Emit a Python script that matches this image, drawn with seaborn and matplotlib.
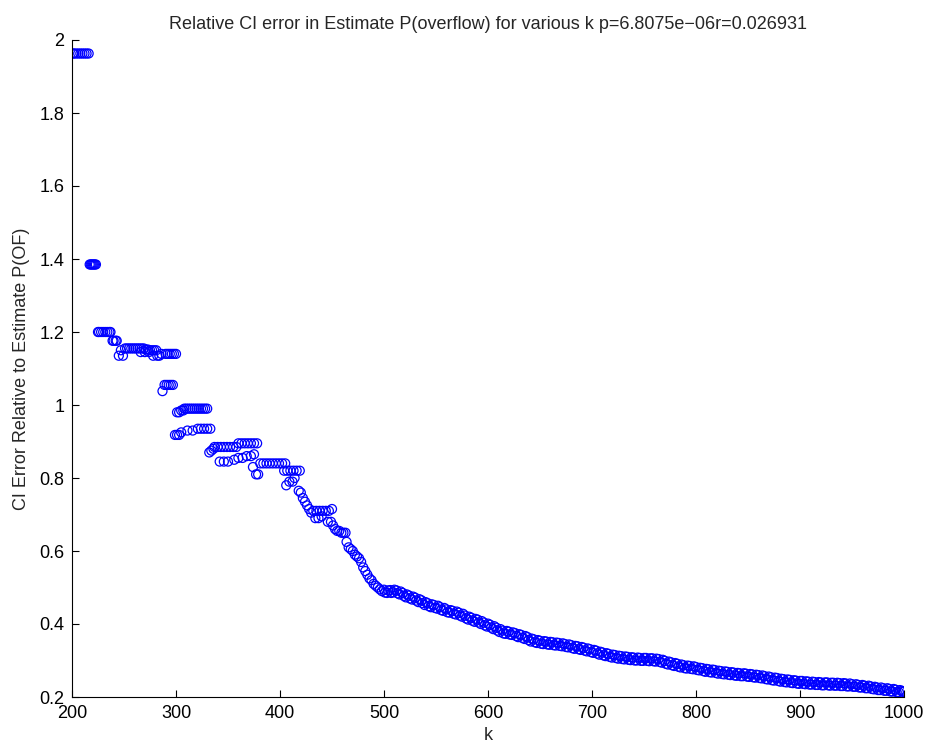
import matplotlib
matplotlib.use("Agg")
import matplotlib.pyplot as plt
import seaborn as sns
import pandas as pd

# ---- data (k, relative CI error) ----
# stepped low-k part
k_steps = [201, 202, 204, 206, 208, 210, 212, 214, 216,
           217, 218, 219, 220, 221, 222, 223,
           225, 226, 228, 230, 232, 234, 236, 237,
           239, 240, 242, 243,
           245, 247, 249,
           251, 253, 255, 257, 259, 261, 263, 265, 267, 269, 271, 273, 275, 277, 279, 281,
           266, 270, 274, 278, 282, 284, 286,
           287, 289, 291, 293, 295, 297,
           290, 292, 294, 296, 298, 300,
           299, 301, 303, 305,
           301, 303, 305, 307,
           308, 310, 312, 314, 316, 318, 320, 322, 324, 326, 328, 330,
           311, 316, 321, 324, 327, 330, 333,
           332, 334, 336,
           337, 340, 343, 346, 349, 352, 355, 358,
           360, 363, 366, 369, 372, 375, 378,
           342, 346, 350,
           356, 360, 364, 368, 372, 375,
           374, 377, 379,
           381, 384, 387, 390, 393, 396, 399, 402, 405,
           404, 407, 410, 413, 416, 419,
           406, 409, 412, 414,
           418, 420, 422, 424, 426, 428, 430,
           432, 435, 438, 441, 444, 447, 450,
           434, 437, 440,
           446, 449, 451, 453, 455, 457, 459, 461, 463,
           464, 466, 468, 470, 472, 474, 476, 478,
           480, 482, 484, 486, 488, 490, 492, 494, 496, 498]
err_steps = [1.963, 1.963, 1.963, 1.963, 1.963, 1.963, 1.963, 1.963, 1.963,
             1.385, 1.385, 1.385, 1.385, 1.385, 1.385, 1.385,
             1.200, 1.200, 1.200, 1.200, 1.200, 1.200, 1.200, 1.200,
             1.176, 1.176, 1.176, 1.176,
             1.135, 1.150, 1.135,
             1.155, 1.155, 1.155, 1.155, 1.155, 1.155, 1.155, 1.155, 1.155, 1.155, 1.152, 1.152, 1.150, 1.150, 1.150, 1.150,
             1.145, 1.145, 1.145, 1.135, 1.135, 1.135, 1.140,
             1.038, 1.055, 1.055, 1.055, 1.055, 1.055,
             1.140, 1.140, 1.140, 1.140, 1.140, 1.140,
             0.918, 0.918, 0.918, 0.925,
             0.980, 0.980, 0.985, 0.985,
             0.990, 0.990, 0.990, 0.990, 0.990, 0.990, 0.990, 0.990, 0.990, 0.990, 0.990, 0.990,
             0.930, 0.930, 0.935, 0.935, 0.935, 0.935, 0.935,
             0.870, 0.875, 0.880,
             0.885, 0.885, 0.885, 0.885, 0.885, 0.885, 0.885, 0.885,
             0.895, 0.895, 0.895, 0.895, 0.895, 0.895, 0.895,
             0.845, 0.845, 0.845,
             0.850, 0.855, 0.855, 0.860, 0.860, 0.865,
             0.830, 0.810, 0.810,
             0.840, 0.840, 0.840, 0.840, 0.840, 0.840, 0.840, 0.840, 0.840,
             0.820, 0.820, 0.820, 0.820, 0.820, 0.820,
             0.780, 0.790, 0.790, 0.800,
             0.765, 0.760, 0.745, 0.735, 0.725, 0.715, 0.705,
             0.710, 0.710, 0.710, 0.710, 0.710, 0.710, 0.715,
             0.690, 0.690, 0.695,
             0.680, 0.680, 0.670, 0.660, 0.655, 0.655, 0.650, 0.650, 0.650,
             0.625, 0.610, 0.605, 0.600, 0.590, 0.585, 0.580, 0.570,
             0.555, 0.545, 0.535, 0.525, 0.520, 0.510, 0.505, 0.500, 0.495, 0.490]

# smooth high-k band, read every 3 k (edges of the band alternating)
k_tail = [500, 503, 506, 509, 512, 515, 518, 521, 524, 527,
          530, 533, 536, 539, 542, 545, 548, 551, 554, 557,
          560, 563, 566, 569, 572, 575, 578, 581, 584, 587,
          590, 593, 596, 599, 602, 605, 608, 611, 614, 617,
          620, 623, 626, 629, 632, 635, 638, 641, 644, 647,
          650, 653, 656, 659, 662, 665, 668, 671, 674, 677,
          680, 683, 686, 689, 692, 695, 698, 701, 704, 707,
          710, 713, 716, 719, 722, 725, 728, 731, 734, 737,
          740, 743, 746, 749, 752, 755, 758, 761, 764, 767,
          770, 773, 776, 779, 782, 785, 788, 791, 794, 797,
          800, 803, 806, 809, 812, 815, 818, 821, 824, 827,
          830, 833, 836, 839, 842, 845, 848, 851, 854, 857,
          860, 863, 866, 869, 872, 875, 878, 881, 884, 887,
          890, 893, 896, 899, 902, 905, 908, 911, 914, 917,
          920, 923, 926, 929, 932, 935, 938, 941, 944, 947,
          950, 953, 956, 959, 962, 965, 968, 971, 974, 977,
          980, 983, 986, 989, 992, 995, 998, 1000]
err_tail = [0.494, 0.485, 0.493, 0.487, 0.492, 0.481, 0.485, 0.473, 0.478, 0.467,
            0.472, 0.460, 0.465, 0.452, 0.457, 0.446, 0.452, 0.442, 0.446, 0.436,
            0.440, 0.431, 0.436, 0.426, 0.431, 0.420, 0.423, 0.412, 0.417, 0.406,
            0.412, 0.400, 0.404, 0.393, 0.398, 0.386, 0.390, 0.378, 0.382, 0.373,
            0.379, 0.370, 0.375, 0.364, 0.370, 0.359, 0.364, 0.352, 0.358, 0.348,
            0.354, 0.345, 0.352, 0.343, 0.350, 0.341, 0.348, 0.339, 0.345, 0.336,
            0.342, 0.332, 0.339, 0.329, 0.335, 0.325, 0.331, 0.321, 0.327, 0.316,
            0.322, 0.312, 0.318, 0.308, 0.315, 0.305, 0.312, 0.303, 0.310, 0.301,
            0.308, 0.300, 0.307, 0.299, 0.307, 0.298, 0.306, 0.297, 0.304, 0.294,
            0.299, 0.289, 0.295, 0.285, 0.291, 0.281, 0.287, 0.278, 0.285, 0.276,
            0.282, 0.273, 0.279, 0.269, 0.276, 0.267, 0.274, 0.264, 0.271, 0.262,
            0.269, 0.260, 0.267, 0.258, 0.265, 0.257, 0.264, 0.255, 0.262, 0.253,
            0.260, 0.251, 0.257, 0.248, 0.254, 0.245, 0.252, 0.242, 0.249, 0.240,
            0.247, 0.238, 0.245, 0.236, 0.244, 0.235, 0.242, 0.234, 0.241, 0.233,
            0.240, 0.232, 0.240, 0.231, 0.239, 0.231, 0.238, 0.230, 0.237, 0.229,
            0.235, 0.228, 0.233, 0.226, 0.231, 0.224, 0.229, 0.221, 0.226, 0.219,
            0.224, 0.217, 0.222, 0.215, 0.220, 0.213, 0.217, 0.215]

# second reading of the same band, offset by 1 k (fills the dense band)
k_tail_b = [501, 504, 507, 510, 513, 516, 519, 522, 525, 528,
            531, 534, 537, 540, 543, 546, 549, 552, 555, 558,
            561, 564, 567, 570, 573, 576, 579, 582, 585, 588,
            591, 594, 597, 600, 603, 606, 609, 612, 615, 618,
            621, 624, 627, 630, 633, 636, 639, 642, 645, 648,
            651, 654, 657, 660, 663, 666, 669, 672, 675, 678,
            681, 684, 687, 690, 693, 696, 699, 702, 705, 708,
            711, 714, 717, 720, 723, 726, 729, 732, 735, 738,
            741, 744, 747, 750, 753, 756, 759, 762, 765, 768,
            771, 774, 777, 780, 783, 786, 789, 792, 795, 798,
            801, 804, 807, 810, 813, 816, 819, 822, 825, 828,
            831, 834, 837, 840, 843, 846, 849, 852, 855, 858,
            861, 864, 867, 870, 873, 876, 879, 882, 885, 888,
            891, 894, 897, 900, 903, 906, 909, 912, 915, 918,
            921, 924, 927, 930, 933, 936, 939, 942, 945, 948,
            951, 954, 957, 960, 963, 966, 969, 972, 975, 978,
            981, 984, 987, 990, 993, 996, 999]
err_tail_b = [0.486, 0.492, 0.485, 0.494, 0.484, 0.489, 0.477, 0.481, 0.470, 0.475,
              0.464, 0.468, 0.457, 0.460, 0.449, 0.454, 0.444, 0.450, 0.438, 0.444,
              0.432, 0.438, 0.428, 0.434, 0.423, 0.428, 0.415, 0.420, 0.409, 0.414,
              0.404, 0.408, 0.396, 0.401, 0.390, 0.394, 0.382, 0.386, 0.374, 0.381,
              0.371, 0.377, 0.367, 0.372, 0.362, 0.367, 0.356, 0.360, 0.350, 0.356,
              0.346, 0.353, 0.344, 0.351, 0.342, 0.349, 0.340, 0.347, 0.337, 0.344,
              0.334, 0.340, 0.331, 0.337, 0.327, 0.333, 0.323, 0.329, 0.319, 0.324,
              0.314, 0.320, 0.310, 0.316, 0.307, 0.313, 0.304, 0.311, 0.302, 0.309,
              0.300, 0.308, 0.299, 0.307, 0.299, 0.306, 0.298, 0.305, 0.296, 0.302,
              0.291, 0.297, 0.287, 0.293, 0.283, 0.289, 0.279, 0.286, 0.277, 0.284,
              0.274, 0.280, 0.271, 0.277, 0.268, 0.275, 0.266, 0.272, 0.263, 0.270,
              0.261, 0.268, 0.259, 0.266, 0.257, 0.265, 0.256, 0.263, 0.254, 0.261,
              0.252, 0.259, 0.249, 0.256, 0.246, 0.253, 0.244, 0.250, 0.241, 0.248,
              0.239, 0.246, 0.237, 0.244, 0.236, 0.243, 0.234, 0.242, 0.233, 0.241,
              0.232, 0.240, 0.232, 0.239, 0.231, 0.239, 0.230, 0.238, 0.229, 0.237,
              0.228, 0.235, 0.226, 0.233, 0.224, 0.231, 0.222, 0.228, 0.219, 0.226,
              0.217, 0.224, 0.215, 0.222, 0.213, 0.219, 0.214]

x_ticks = [200, 300, 400, 500, 600, 700, 800, 900, 1000]
y_ticks = [0.2, 0.4, 0.6, 0.8, 1.0, 1.2, 1.4, 1.6, 1.8, 2.0]
y_tick_labels = ["0.2", "0.4", "0.6", "0.8", "1", "1.2", "1.4", "1.6", "1.8", "2"]

title = "Relative CI error in Estimate P(overflow) for various k p=6.8075e\u221206r=0.026931"
x_label = "k"
y_label = "CI Error Relative to Estimate P(OF)"

df = pd.DataFrame({"k": k_steps + k_tail + k_tail_b,
                   "err": err_steps + err_tail + err_tail_b})

sns.set_style("ticks")
plt.rcParams["font.family"] = ["Liberation Sans", "DejaVu Sans"]

fig = plt.figure(figsize=(9.29, 7.45), dpi=100)
ax = fig.add_axes([72 / 929, 1 - 697 / 745, (904 - 72) / 929, (697 - 40) / 745])

sns.scatterplot(data=df, x="k", y="err", ax=ax, marker="o", s=42,
                facecolors="none", edgecolor="#0000ff", linewidth=0.9)

ax.set_xlim(200, 1000)
ax.set_ylim(0.2, 2.0)
ax.set_xticks(x_ticks)
ax.set_yticks(y_ticks)
ax.set_yticklabels(y_tick_labels)
ax.tick_params(direction="in", length=5, width=0.8, labelsize=13, colors="black")
ax.tick_params(axis="x", pad=6)
ax.tick_params(axis="y", pad=5.5)
for side in ["top", "right"]:
    ax.spines[side].set_visible(False)
for side in ["left", "bottom"]:
    ax.spines[side].set_linewidth(0.8)
    ax.spines[side].set_color("black")

ax.set_title(title, fontsize=13, pad=8)
ax.set_xlabel(x_label, fontsize=13, labelpad=3)
ax.set_ylabel(y_label, fontsize=13)
ax.yaxis.set_label_coords(-0.05, 0.5)

fig.savefig("out.png", dpi=100)
